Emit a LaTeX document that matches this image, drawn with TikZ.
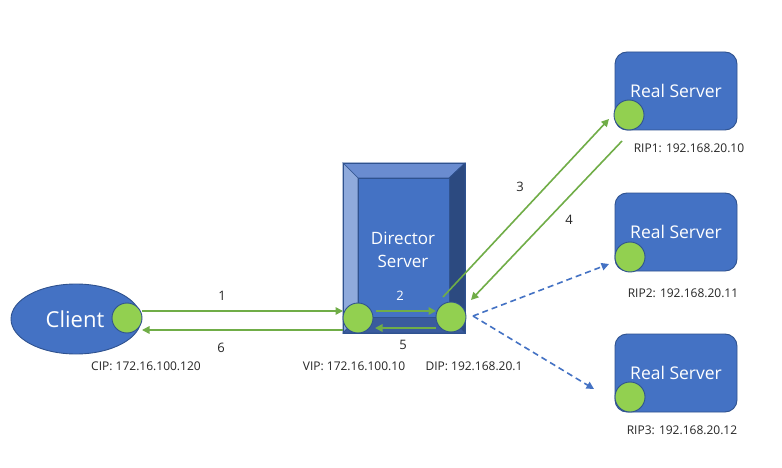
\documentclass[tikz,border=0pt]{standalone}
\usepackage{fontspec}
\setmainfont{Open Sans}
\usetikzlibrary{arrows.meta,calc,shapes.geometric}
\definecolor{face}{HTML}{4472C4}
\definecolor{edge}{HTML}{2F528F}
\definecolor{bevtop}{HTML}{6A8CD0}
\definecolor{bevleft}{HTML}{8FAADC}
\definecolor{bevright}{HTML}{2C4A80}
\definecolor{bevbot}{HTML}{3A5B9E}
\definecolor{gfill}{HTML}{92D050}
\definecolor{garrow}{HTML}{70AD47}
\definecolor{txt}{HTML}{262626}
\tikzset{
  port/.style={circle, minimum size=30pt, inner sep=0pt, fill=gfill, draw=edge, line width=0.9pt},
  rsbox/.style={rectangle, rounded corners=12pt, minimum width=122pt, minimum height=78pt, fill=face, draw=edge, line width=0.9pt, text=white, font=\fontsize{17.5}{19}\selectfont},
  lbl/.style={text=txt, font=\fontsize{12}{14}\selectfont, inner sep=0pt},
  num/.style={text=txt, font=\fontsize{13}{15}\selectfont, inner sep=0pt},
  garr/.style={draw=garrow, line width=1.6pt, -{Triangle[length=7.5pt,width=7.5pt]}},
  barr/.style={draw=face, line width=1.6pt, dashed, dash pattern=on 6pt off 4pt, -{Triangle[length=7.5pt,width=7.5pt]}}
}
\begin{document}
\begin{tikzpicture}[x=1pt,y=-1pt]
\useasboundingbox[fill=white] (0,0) rectangle (782,468);
% Client
\node[ellipse, minimum width=130pt, minimum height=70pt, fill=face, draw=edge, line width=0.9pt, inner sep=0pt] (client) at (76,319) {};
\node[text=white, font=\fontsize{22}{24}\selectfont, inner sep=0pt] (clienttxt) at (75,319) {Client};
\node[port] (cip) at (127,318) {};
\node[lbl] (ciplbl) at (146,366) {CIP: 172.16.100.120};
% Director
\fill[bevtop, draw=edge, line width=0.6pt] (343,163) -- (465,163) -- (449,178) -- (358,178) -- cycle;
\fill[bevleft, draw=edge, line width=0.6pt] (343,163) -- (358,178) -- (358,317) -- (343,333) -- cycle;
\fill[bevright, draw=edge, line width=0.6pt] (465,163) -- (465,333) -- (449,317) -- (449,178) -- cycle;
\fill[bevbot, draw=edge, line width=0.6pt] (343,333) -- (465,333) -- (449,317) -- (358,317) -- cycle;
\node[rectangle, minimum width=91pt, minimum height=139pt, fill=face, draw=edge, line width=0.6pt, inner sep=0pt] (dir) at (403.5,247.5) {};
\draw[edge, line width=0.9pt] (343,163) rectangle (465,333);
\node[text=white, align=center, font=\fontsize{17}{23}\selectfont, inner sep=0pt] (dirtxt) at (403,250) {Director\\Server};
\node[port] (vip) at (358,318) {};
\node[port] (dip) at (451,317) {};
\node[lbl] (viplbl) at (354,366) {VIP: 172.16.100.10};
\node[lbl] (diplbl) at (474,366) {DIP: 192.168.20.1};
% Real servers
\node[rsbox] (rs1) at (676,91) {Real Server};
\node[rsbox] (rs2) at (676,232) {Real Server};
\node[rsbox] (rs3) at (676,373) {Real Server};
\node[port] (rip1) at (629,115) {};
\node[port] (rip2) at (630,257) {};
\node[port] (rip3) at (630,397) {};
\node[lbl] (rip1lbl) at (689,148) {RIP1: 192.168.20.10};
\node[lbl] (rip2lbl) at (683,293) {RIP2: 192.168.20.11};
\node[lbl] (rip3lbl) at (682,430) {RIP3: 192.168.20.12};
% connector endpoints
\coordinate (a1s) at (142,311);
\coordinate (a1e) at (343,311);
\coordinate (a6s) at (343,330);
\coordinate (a6e) at (142,330);
\coordinate (a2s) at (376,311);
\coordinate (a2e) at (436,311);
\coordinate (a5s) at (436,328);
\coordinate (a5e) at (375,328);
\coordinate (a3s) at (443,297);
\coordinate (a3e) at (609,119);
\coordinate (a4s) at (622,141);
\coordinate (a4e) at (471,300);
\coordinate (bs) at (473,316);
\coordinate (b2e) at (609,264);
\coordinate (b3e) at (594,389);
\draw[garr] (a1s) -- (a1e);
\draw[garr] (a6s) -- (a6e);
\draw[garr] (a2s) -- (a2e);
\draw[garr] (a5s) -- (a5e);
\draw[garr] (a3s) -- (a3e);
\draw[garr] (a4s) -- (a4e);
\draw[barr] (bs) -- (b2e);
\draw[barr] (bs) -- (b3e);
% numbers
\node[num] (n1) at (222,296) {1};
\node[num] (n6) at (221,348) {6};
\node[num, text=white] (n2) at (400,296) {2};
\node[num] (n5) at (403,345) {5};
\node[num] (n3) at (520,187) {3};
\node[num] (n4) at (569,220) {4};
\end{tikzpicture}
\end{document}
